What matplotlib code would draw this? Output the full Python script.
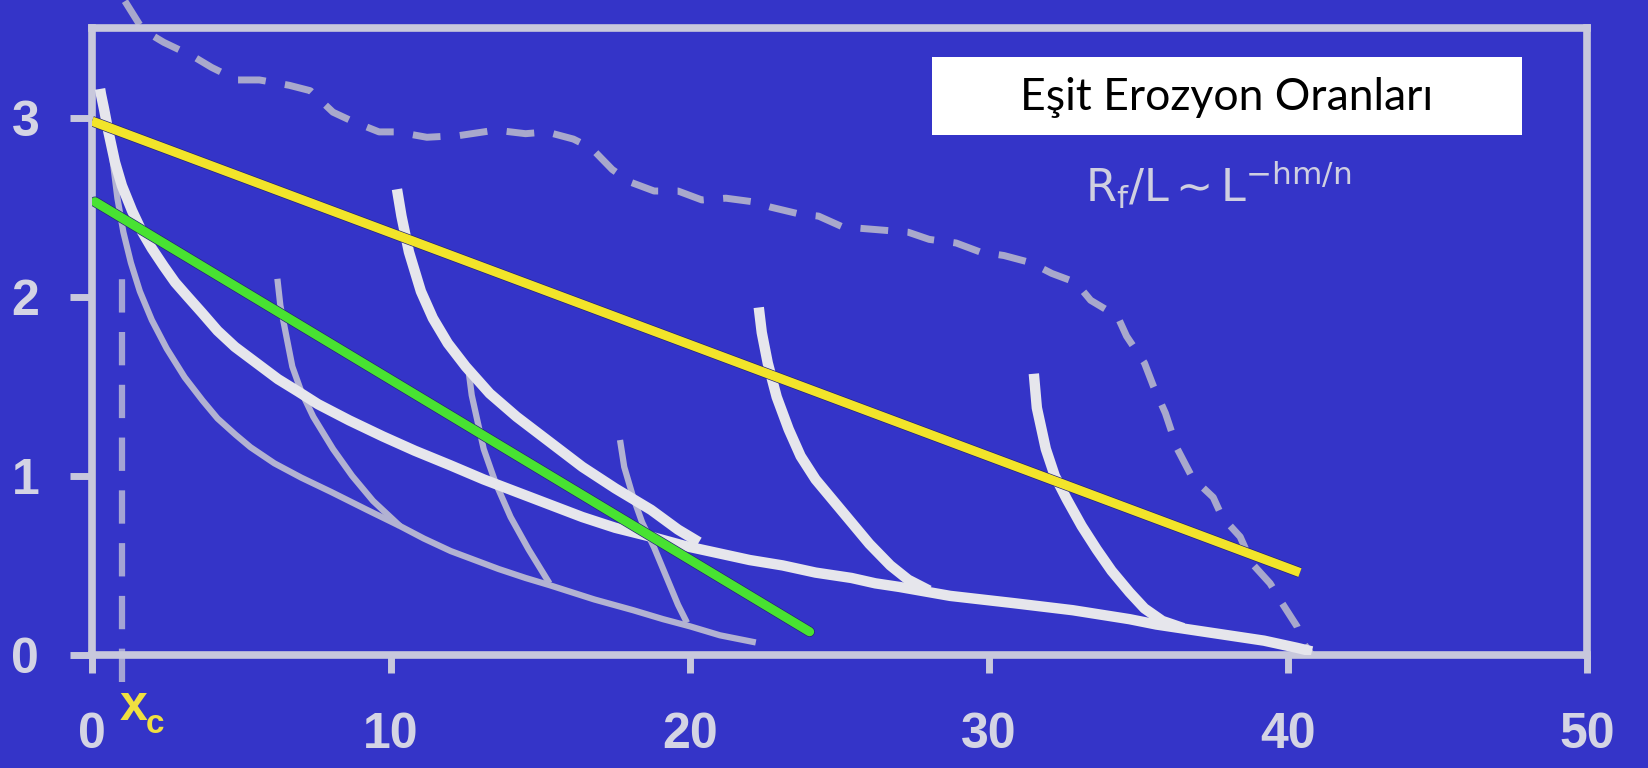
import matplotlib
matplotlib.use("Agg")
import matplotlib.pyplot as plt
from matplotlib.patches import Rectangle
import matplotlib.patheffects as pe

# ---------------- data ----------------
x_ticks = [0, 10, 20, 30, 40, 50]
y_ticks = [0, 1, 2, 3]
x_tick_labels = ["0", "10", "20", "30", "40", "50"]
y_tick_labels = ["0", "1", "2", "3"]

# main (thick, white) trunk profile
trunk_x = [0.27, 0.3, 0.4, 0.55, 0.77, 1.0, 1.34, 1.65, 2.0, 2.4, 2.78, 3.2, 3.68,
           4.2, 4.78, 5.5, 6.22, 6.9, 7.56, 8.6, 9.73, 10.8, 11.97, 13.1, 14.2,
           15.3, 16.4, 17.5, 18.7, 19.8, 20.9, 22.0, 23.1, 24.2, 25.4, 26.2, 27.0,
           28.7, 30.8, 32.8, 34.7, 35.6, 36.4, 38.0, 39.2, 40.3, 40.8]
trunk_y = [3.16, 3.13, 3.05, 2.92, 2.75, 2.62, 2.48, 2.37, 2.27, 2.17, 2.08, 2.00,
           1.91, 1.81, 1.72, 1.63, 1.54, 1.47, 1.40, 1.31, 1.22, 1.14, 1.06, 0.98,
           0.91, 0.84, 0.77, 0.71, 0.66, 0.61, 0.57, 0.53, 0.50, 0.46, 0.43, 0.40,
           0.38, 0.33, 0.29, 0.25, 0.20, 0.17, 0.15, 0.11, 0.08, 0.04, 0.02]
# thick white branches
branch1_x = [10.2, 10.35, 10.6, 11.0, 11.4, 11.9, 12.5, 13.3, 14.2, 15.3, 16.4,
             17.5, 18.7, 19.6, 20.3]
branch1_y = [2.60, 2.45, 2.25, 2.03, 1.88, 1.74, 1.61, 1.46, 1.33, 1.19, 1.05,
             0.93, 0.81, 0.70, 0.63]
branch2_x = [22.3, 22.4, 22.6, 22.9, 23.3, 23.7, 24.2, 24.8, 25.4, 26.0, 26.7,
             27.3, 28.0]
branch2_y = [1.94, 1.80, 1.63, 1.44, 1.26, 1.11, 0.98, 0.86, 0.74, 0.62, 0.50,
             0.42, 0.36]
branch3_x = [31.5, 31.6, 31.9, 32.2, 32.6, 33.1, 33.6, 34.1, 34.7, 35.2, 35.8, 36.5]
branch3_y = [1.57, 1.38, 1.15, 1.00, 0.87, 0.72, 0.59, 0.47, 0.35, 0.26, 0.19, 0.15]

# thin grey (earlier) trunk profile and branches
gtrunk_x = [0.6, 0.7, 0.85, 1.05, 1.3, 1.6, 2.0, 2.5, 3.1, 3.7, 4.2, 4.8, 5.3,
            6.1, 7.0, 8.0, 9.2, 10.3, 11.1, 12.0, 12.8, 13.6, 14.5, 15.3, 16.8,
            18.1, 19.1, 20.0, 21.0, 22.2]
gtrunk_y = [2.95, 2.75, 2.55, 2.36, 2.19, 2.03, 1.87, 1.71, 1.55, 1.42, 1.32,
            1.23, 1.16, 1.07, 0.99, 0.91, 0.81, 0.72, 0.65, 0.58, 0.53, 0.48,
            0.43, 0.39, 0.31, 0.25, 0.20, 0.16, 0.11, 0.07]
gbranch1_x = [6.2, 6.3, 6.5, 6.7, 7.0, 7.4, 8.06, 8.7, 9.4, 10.3]
gbranch1_y = [2.10, 1.95, 1.78, 1.61, 1.47, 1.33, 1.15, 1.00, 0.86, 0.72]
gbranch2_x = [12.6, 12.7, 12.9, 13.1, 13.5, 14.0, 14.6, 15.3]
gbranch2_y = [1.58, 1.45, 1.30, 1.15, 0.96, 0.77, 0.59, 0.40]
gbranch3_x = [17.66, 17.8, 18.1, 18.4, 18.8, 19.3, 19.6, 19.9]
gbranch3_y = [1.20, 1.05, 0.88, 0.74, 0.60, 0.40, 0.28, 0.18]

# dashed divide profile
div_x = [1.1, 1.7, 2.4, 3.4, 4.0, 4.85, 5.6, 6.6, 7.3, 8.06, 8.7, 9.6, 10.2, 11.2,
         12.3, 13.5, 14.5, 15.2, 16.1, 16.7, 17.4, 18.0, 18.8, 19.6, 20.4, 21.2,
         22.1, 22.7, 23.7, 24.3, 25.1, 27.3, 28.0, 28.9, 29.7, 30.5, 31.4, 32.1,
         32.9, 33.4, 34.3, 34.6, 35.2, 35.5, 35.9, 36.3, 36.8, 37.5, 37.8, 38.4,
         38.8, 39.4, 39.8, 40.3, 40.5, 40.8]
div_y = [3.65, 3.49, 3.42, 3.34, 3.28, 3.21, 3.21, 3.18, 3.15, 3.03, 2.98, 2.92,
         2.92, 2.89, 2.90, 2.93, 2.91, 2.92, 2.88, 2.83, 2.71, 2.64, 2.59, 2.59,
         2.54, 2.55, 2.53, 2.50, 2.46, 2.45, 2.39, 2.36, 2.32, 2.30, 2.25, 2.23,
         2.19, 2.13, 2.08, 1.98, 1.89, 1.78, 1.63, 1.50, 1.35, 1.15, 0.99, 0.88,
         0.77, 0.66, 0.51, 0.40, 0.29, 0.16, 0.07, 0.0]

# critical distance x_c
xc_value = 1.0
xc_y = [-0.15, 2.16]

# straight lines
yellow_x = [0.0, 40.4]
yellow_y = [2.98, 0.46]
green_x = [0.1, 24.0]
green_y = [2.53, 0.13]

title_text = "Eşit Erozyon Oranları"
formula_text = r"$\mathregular{R_f/L \sim L^{-hm/n}}$"

# ---------------- style ----------------
BG = "#3434c8"
AXC = "#c8c8dc"
WHITE = "#e6e6ec"
GREY = "#b2b2d2"
DASH = "#a8a8cc"
YELLOW = "#f2e42a"
GREEN = "#48e232"

plt.rcParams["lines.scale_dashes"] = False
plt.rcParams["mathtext.fontset"] = "custom"
plt.rcParams["mathtext.rm"] = "Liberation Sans"
plt.rcParams["mathtext.it"] = "Liberation Sans"

fig = plt.figure(figsize=(16.48, 7.68), dpi=100)
fig.patch.set_facecolor(BG)
ax = fig.add_axes([92 / 1648, 1 - 655 / 768, (1587 - 92) / 1648, (655 - 28) / 768])
ax.set_facecolor(BG)
ax.set_xlim(0, 50)
ax.set_ylim(0, 3.5)

for s in ax.spines.values():
    s.set_color(AXC)
    s.set_linewidth(5.5)

ax.set_xticks(x_ticks)
ax.set_xticklabels(x_tick_labels)
ax.set_yticks(y_ticks)
ax.set_yticklabels(y_tick_labels)
for lab in ax.get_xticklabels() + ax.get_yticklabels():
    lab.set_fontfamily("Liberation Sans")
    lab.set_fontweight("bold")
    lab.set_fontsize(36)
ax.tick_params(axis="x", direction="out", length=13, width=5, color=AXC,
               labelcolor="#d4d4e4", pad=28)
ax.tick_params(axis="y", direction="out", length=16, width=5, color=AXC,
               labelcolor="#d4d4e4", pad=22)

# dashed divide
ax.plot(div_x, div_y, color=DASH, lw=5, dashes=(20, 14), solid_capstyle="butt",
        clip_on=False, zorder=1)
# x_c vertical dashed
ax.plot([xc_value, xc_value], xc_y, color="#a4a4d4", lw=4.5, dashes=(24, 14),
        clip_on=False, zorder=1)

# grey thin family
for xs, ys in [(gtrunk_x, gtrunk_y), (gbranch1_x, gbranch1_y),
               (gbranch2_x, gbranch2_y), (gbranch3_x, gbranch3_y)]:
    ax.plot(xs, ys, color=GREY, lw=4.5, solid_capstyle="butt",
            solid_joinstyle="round", zorder=2)

# thick white family
for xs, ys in [(trunk_x, trunk_y), (branch1_x, branch1_y),
               (branch2_x, branch2_y), (branch3_x, branch3_y)]:
    ax.plot(xs, ys, color=WHITE, lw=7.5, solid_capstyle="butt",
            solid_joinstyle="round", zorder=3)

edge = [pe.Stroke(linewidth=7.6, foreground="#24247a"), pe.Normal()]
ax.plot(green_x, green_y, color=GREEN, lw=6.6, solid_capstyle="round", zorder=4,
        path_effects=edge)
ax.plot(yellow_x, yellow_y, color=YELLOW, lw=6.6, solid_capstyle="butt", zorder=5,
        path_effects=edge)

# x_c label
fig.text(120 / 1648, 1 - 720 / 768, "x", color="#f0e040", fontsize=36,
         fontweight="bold", family="Liberation Sans", ha="left", va="baseline")
fig.text(146 / 1648, 1 - 733 / 768, "c", color="#f0e040", fontsize=24,
         fontweight="bold", family="Liberation Sans", ha="left", va="baseline")

# formula
fig.text(1085 / 1648, 1 - 202 / 768, formula_text, color="#cfcfe0", fontsize=32,
         ha="left", va="baseline")

# title box
fig.patches.append(Rectangle((932 / 1648, 1 - 135 / 768), 590 / 1648, 78 / 768,
                             transform=fig.transFigure, facecolor="white",
                             edgecolor="none", zorder=10))
fig.text((932 + 1522) / 2 / 1648, 1 - 97 / 768, title_text, color="black",
         fontsize=32, family="Lato", ha="center", va="center", zorder=11)

fig.savefig("out.png", dpi=100, facecolor=BG)
